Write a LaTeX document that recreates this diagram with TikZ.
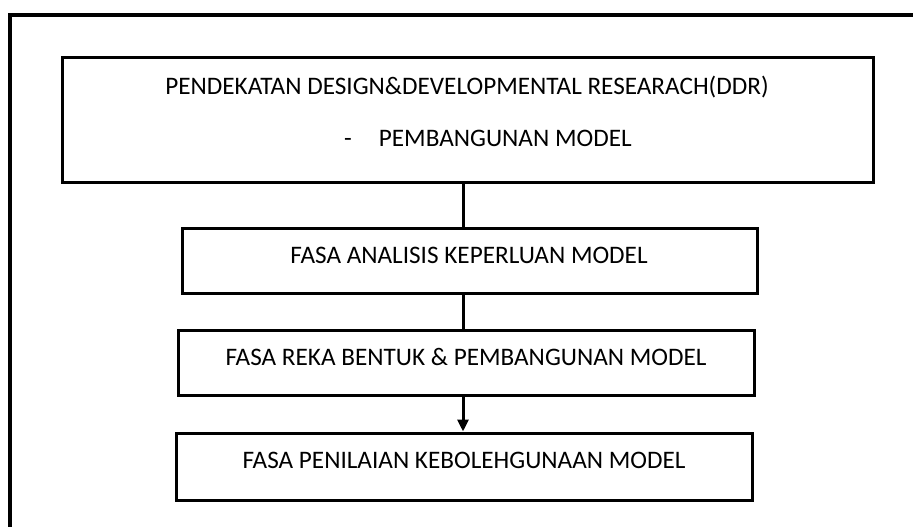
\documentclass[tikz,border=0pt]{standalone}
\usepackage{fontspec}
\setmainfont{Carlito}
\usetikzlibrary{arrows.meta}

\begin{document}
\begin{tikzpicture}[x=1pt,y=-1pt,
  kotak/.style={draw,line width=3pt,inner sep=0pt},
  teks/.style={inner sep=0pt,text height=16pt,text depth=0pt,font=\fontsize{25.2}{29}\selectfont},
  garis/.style={line width=3pt}]

\useasboundingbox (0,0) rectangle (913,527);

% frame
\draw[line width=4pt] (913,15)--(10,15)--(10,527);

\node[kotak,minimum width=811pt,minimum height=124pt] (ddr) at (467.5,120) {};
\node[kotak,minimum width=575pt,minimum height=65pt] (analisis) at (469.5,260.5) {};
\node[kotak,minimum width=576pt,minimum height=65pt] (rekabentuk) at (466,362.5) {};
\node[kotak,minimum width=576pt,minimum height=67pt] (penilaian) at (464,466.5) {};

\node[teks] (ddrA) at (467,87) {PENDEKATAN DESIGN\&DEVELOPMENTAL RESEARACH(DDR)};
\node[teks,anchor=west] (ddrB) at (344,138) {-\hspace{27pt}PEMBANGUNAN MODEL};
\node[teks] (analisisT) at (469,255) {FASA ANALISIS KEPERLUAN MODEL};
\node[teks] (rekabentukT) at (466,357) {FASA REKA BENTUK \& PEMBANGUNAN MODEL};
\node[teks] (penilaianT) at (464,460) {FASA PENILAIAN KEBOLEHGUNAAN MODEL};

\coordinate (sumbu) at (463,0);
\draw[garis] (ddr.south -| sumbu)--(analisis.north -| sumbu);
\draw[garis] (analisis.south -| sumbu)--(rekabentuk.north -| sumbu);
\draw[garis,-{Triangle[length=12pt,width=11pt]}] (rekabentuk.south -| sumbu)--(penilaian.north -| sumbu);

\end{tikzpicture}
\end{document}
